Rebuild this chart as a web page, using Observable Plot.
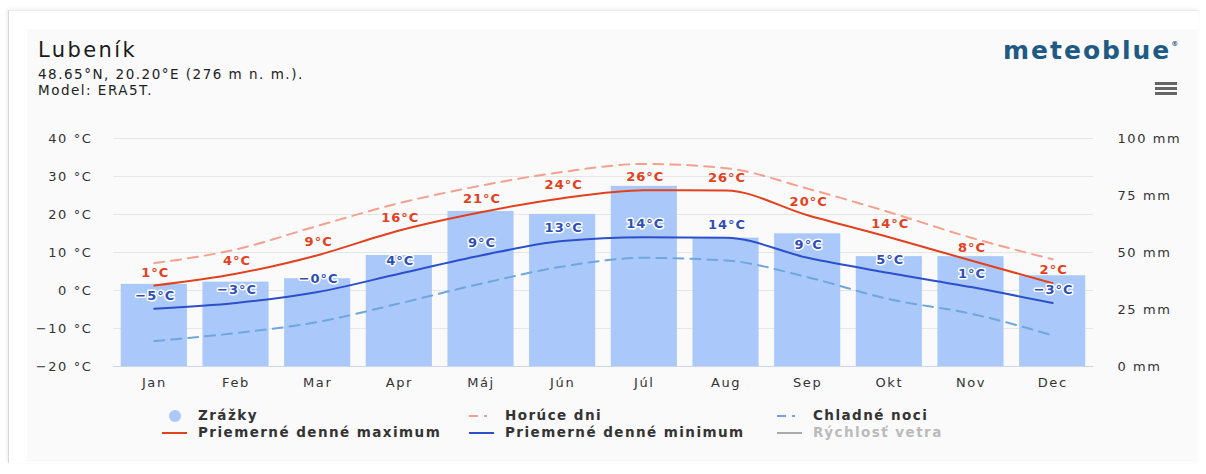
<!DOCTYPE html>
<html>
<head>
<meta charset="utf-8">
<script src="https://cdn.jsdelivr.net/npm/d3@7"></script>
<script src="https://cdn.jsdelivr.net/npm/@observablehq/plot@0.6"></script>
<style>
  html, body { margin: 0; padding: 0; background: #ffffff; }
  #wrap { position: relative; width: 1206px; height: 474px; overflow: hidden; font-family: "DejaVu Sans", sans-serif; }
  #card { position: absolute; left: 8px; top: 10px; width: 1190px; height: 452px; border-left: 1px solid #d8d8d8; border-top: 1px solid #ececec; box-shadow: -1px -1px 3px rgba(0,0,0,0.08); background: #ffffff; }
  #inner { position: absolute; left: 27px; top: 29px; width: 1171px; height: 433px; background: #fafafa; }
  #title { position: absolute; left: 38px; top: 38px; font-size: 21px; letter-spacing: 2.4px; color: #1a1a1a; }
  #sub { position: absolute; left: 38px; top: 66px; font-size: 13.5px; line-height: 16px; letter-spacing: 1.5px; color: #222; }
  #logo { position: absolute; left: 1003px; top: 36px; font-size: 25px; font-weight: bold; color: #1f5a85; letter-spacing: 2px; }
  #logo sup { font-size: 7px; vertical-align: top; position: relative; top: 4px; letter-spacing: 0; }
  #menu { position: absolute; left: 1155px; top: 82px; width: 22px; }
  #menu div { height: 2.5px; background: #666; margin-bottom: 2.5px; }
  #chart { position: absolute; left: 0; top: 120px; }
  #chart svg text { letter-spacing: 1.6px; }
  #chart svg g.lab text { letter-spacing: 1px; }
  .leg { position: absolute; font-size: 13.5px; font-weight: bold; color: #333; white-space: nowrap; letter-spacing: 1.45px; }
  .sym { position: absolute; }
</style>
</head>
<body>
<div id="wrap">
  <div id="card"></div>
  <div id="inner"></div>
  <div id="title">Lubeník</div>
  <div id="sub">48.65°N, 20.20°E (276 m n. m.).<br>Model: ERA5T.</div>
  <div id="logo">meteoblue<sup>®</sup></div>
  <div id="menu"><div></div><div></div><div></div></div>
  <div id="chart"></div>
  <div id="legend"></div>
</div>
<script>
const months = ["Jan","Feb","Mar","Apr","Máj","Jún","Júl","Aug","Sep","Okt","Nov","Dec"];
const precipitation = [36, 37, 38.5, 48.7, 68, 66.7, 79, 56.3, 58.2, 48.2, 48.2, 39.8]; // mm
const meanMax = [1.3, 4.4, 9.3, 15.8, 20.6, 24.3, 26.4, 26.3, 19.8, 14.0, 7.9, 1.9];
const meanMin = [-4.8, -3.3, -0.4, 4.4, 9.2, 13.0, 14.0, 13.9, 8.6, 4.6, 0.9, -3.3];
const hotDays = [7.2, 10.8, 17.0, 23.0, 27.6, 31.2, 33.3, 32.2, 26.8, 20.6, 13.9, 8.2];
const coldNights = [-13.3, -11.2, -8.3, -3.4, 1.8, 6.3, 8.6, 7.9, 3.5, -2.3, -6.1, -11.8];
const tempTicks = [-20, -10, 0, 10, 20, 30, 40];
const mmTicks = [0, 25, 50, 75, 100];

const TMIN = -20, TMAX = 40, MMMAX = 100;
const mmToT = mm => TMIN + mm * (TMAX - TMIN) / MMMAX;
const fmt = v => (v < 0 ? "−" : "") + Math.abs(Math.round(v));

const rows = months.map((m, i) => ({
  month: m, mm: precipitation[i], max: meanMax[i], min: meanMin[i], hot: hotDays[i], cold: coldNights[i]
}));

const RED = "#e3401e", BLUE = "#2c4fcb", BAR = "#aac9fa", HOT = "#f5a08e", COLD = "#6fa6de";
const font = "DejaVu Sans, sans-serif";

const chart = Plot.plot({
  width: 1206,
  height: 280,
  marginTop: 18,
  marginBottom: 34,
  marginLeft: 113,
  marginRight: 113,
  style: { background: "transparent", fontFamily: font, fontSize: "13px", color: "#333" },
  x: { domain: months, paddingInner: 0.19, paddingOuter: 0.095, round: false, label: null },
  y: { domain: [TMIN, TMAX], label: null },
  marks: [
    Plot.ruleY(tempTicks.filter(t => t > TMIN), { stroke: "#e6e6e6", strokeWidth: 1 }),
    Plot.barY(rows, { x: "month", y1: () => TMIN, y2: d => mmToT(d.mm), fill: BAR }),
    Plot.ruleY([TMIN], { stroke: "#ccd6eb", strokeWidth: 1 }),
    Plot.lineY(rows, { x: "month", y: "hot", stroke: HOT, strokeWidth: 2, strokeDasharray: "10,7", curve: "monotone-x" }),
    Plot.lineY(rows, { x: "month", y: "cold", stroke: COLD, strokeWidth: 2, strokeDasharray: "10,7", curve: "monotone-x" }),
    Plot.lineY(rows, { x: "month", y: "max", stroke: RED, strokeWidth: 2, curve: "monotone-x" }),
    Plot.lineY(rows, { x: "month", y: "min", stroke: BLUE, strokeWidth: 2, curve: "monotone-x" }),
    Plot.text(rows, { x: "month", y: "max", text: d => fmt(d.max) + "°C", dy: -13, dx: 1, fill: RED, fontWeight: "bold", fontSize: 13, className: "lab" }),
    Plot.text(rows, { x: "month", y: "min", text: d => fmt(d.min) + "°C", dy: -13, dx: 1, fill: "#2f4fb8", fontWeight: "bold", fontSize: 13, stroke: "white", strokeWidth: 3, paintOrder: "stroke", className: "lab" }),
    Plot.axisY(tempTicks, { anchor: "left", tickSize: 0, tickPadding: 21, tickFormat: d => `${d < 0 ? "−" + Math.abs(d) : d} °C`, fontSize: 13, fill: "#333", label: null }),
    Plot.axisY(mmTicks.map(mmToT), { anchor: "right", tickSize: 0, tickPadding: 24, tickFormat: t => `${Math.round((t - TMIN) * MMMAX / (TMAX - TMIN))} mm`, fontSize: 13, fill: "#333", label: null }),
    Plot.axisX({ tickSize: 0, tickPadding: 11, fontSize: 13, fill: "#333", label: null })
  ]
});
document.getElementById("chart").appendChild(chart);

// Legend
const legend = document.getElementById("legend");
const items = [
  { label: "Zrážky", x: 198, y: 407, sym: "circle", color: BAR },
  { label: "Horúce dni", x: 505, y: 407, sym: "dash", color: HOT },
  { label: "Chladné noci", x: 813, y: 407, sym: "dash", color: COLD },
  { label: "Priemerné denné maximum", x: 198, y: 424, sym: "line", color: RED },
  { label: "Priemerné denné minimum", x: 505, y: 424, sym: "line", color: BLUE },
  { label: "Rýchlosť vetra", x: 813, y: 424, sym: "line", color: "#aaaaaa", text: "#bbbbbb" }
];
for (const it of items) {
  const t = document.createElement("div");
  t.className = "leg";
  t.style.left = it.x + "px";
  t.style.top = it.y + "px";
  t.textContent = it.label;
  if (it.text) t.style.color = it.text;
  legend.appendChild(t);
  const s = document.createElement("div");
  s.className = "sym";
  const cy = it.y + 9;
  if (it.sym === "circle") {
    Object.assign(s.style, { left: (it.x - 29) + "px", top: (cy - 6) + "px", width: "12px", height: "12px", borderRadius: "50%", background: it.color });
  } else if (it.sym === "line") {
    Object.assign(s.style, { left: (it.x - 36) + "px", top: (cy - 1) + "px", width: "25px", height: "2px", background: it.color });
  } else {
    Object.assign(s.style, { left: (it.x - 36) + "px", top: (cy - 1) + "px", width: "25px", height: "2px", background: `linear-gradient(to right, ${it.color} 0 9px, transparent 9px 15px, ${it.color} 15px 18px, transparent 18px)` });
  }
  legend.appendChild(s);
}
</script>
</body>
</html>
